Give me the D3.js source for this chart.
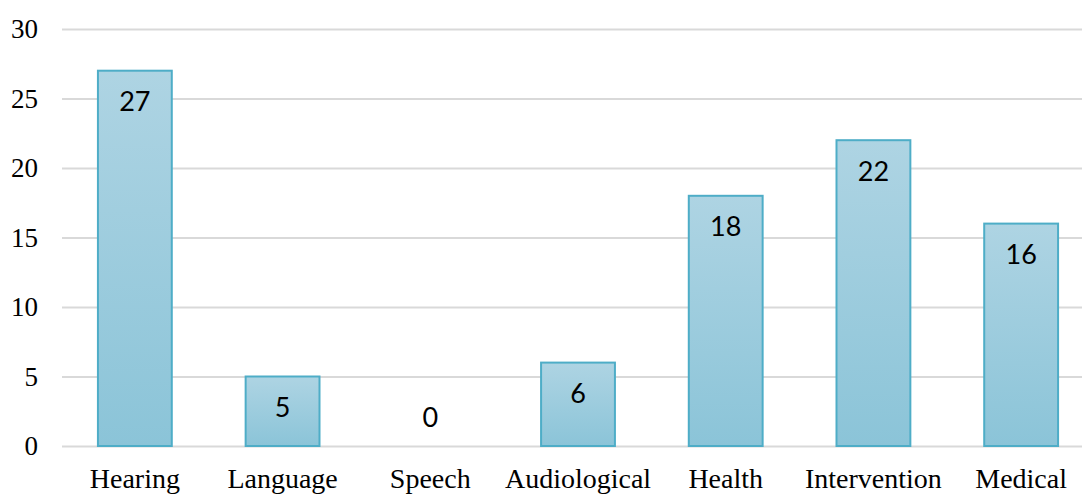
<!DOCTYPE html>
<html>
<head>
<meta charset="utf-8">
<script src="https://cdn.jsdelivr.net/npm/d3@7"></script>
<style>
  html, body { margin: 0; padding: 0; background: #ffffff; }
  svg { display: block; }
</style>
</head>
<body>
<svg id="chart" width="1082" height="494"></svg>
<script>
// Categories and counts
const categories = ["Hearing", "Language", "Speech", "Audiological", "Health", "Intervention", "Medical"];
const counts = [27, 5, 0, 6, 18, 22, 16];
const yTicks = [0, 5, 10, 15, 20, 25, 30];

const rows = categories.map((c, i) => ({ category: c, value: counts[i] }));

const svg = d3.select("#chart");
const width = 1082;
const plot = { left: 61, right: 1095, top: 29, bottom: 446 };
const serif = "'Liberation Serif', 'Times New Roman', serif";

const x = d3.scaleBand()
  .domain(categories)
  .range([plot.left, plot.right])
  .paddingInner(0.5)
  .paddingOuter(0.25);

const y = d3.scaleLinear()
  .domain([0, 30])
  .range([plot.bottom, plot.top]);

// Bar fill: light blue vertical gradient
const defs = svg.append("defs");
const grad = defs.append("linearGradient")
  .attr("id", "barFill")
  .attr("x1", 0).attr("y1", 0).attr("x2", 0).attr("y2", 1);
grad.append("stop").attr("offset", "0%").attr("stop-color", "#aed4e3");
grad.append("stop").attr("offset", "100%").attr("stop-color", "#8bc4d8");

// Horizontal gridlines with value ticks
const gy = svg.append("g")
  .attr("transform", `translate(${plot.left + 1},0)`)
  .call(d3.axisLeft(y).tickValues(yTicks).tickSize(0).tickPadding(0))
  .attr("font-family", serif)
  .attr("font-size", 27);
gy.select(".domain").remove();
gy.selectAll(".tick line")
  .attr("x2", width - plot.left)
  .attr("stroke", "#d9d9d9")
  .attr("stroke-width", 2);
gy.selectAll(".tick text")
  .attr("x", 38 - plot.left - 1)
  .attr("dy", "0.33em")
  .attr("text-anchor", "end")
  .attr("fill", "#000");

// Bars (zero-valued categories draw no bar)
svg.append("g").selectAll("rect")
  .data(rows.filter(d => d.value > 0))
  .join("rect")
  .attr("x", d => x(d.category))
  .attr("y", d => y(d.value))
  .attr("width", x.bandwidth())
  .attr("height", d => y(0) - y(d.value))
  .attr("fill", "url(#barFill)")
  .attr("stroke", "#4eadc7")
  .attr("stroke-width", 2);

// Value labels, inside the top of each bar
svg.append("g")
  .attr("font-family", "Lato, 'Open Sans', sans-serif")
  .attr("font-size", 27)
  .selectAll("text")
  .data(rows)
  .join("text")
  .attr("x", d => x(d.category) + x.bandwidth() / 2)
  .attr("y", d => d.value > 0 ? y(d.value) + 31 : y(0) - 28)
  .attr("dy", "0.35em")
  .attr("text-anchor", "middle")
  .attr("fill", "#000")
  .text(d => d.value);

// Category labels
const gx = svg.append("g")
  .attr("transform", `translate(0,${plot.bottom})`)
  .call(d3.axisBottom(x).tickSize(0).tickPadding(0))
  .attr("font-family", serif)
  .attr("font-size", 28);
gx.select(".domain").remove();
gx.selectAll(".tick text")
  .attr("y", 42)
  .attr("dy", 0)
  .attr("fill", "#000");
</script>
</body>
</html>
